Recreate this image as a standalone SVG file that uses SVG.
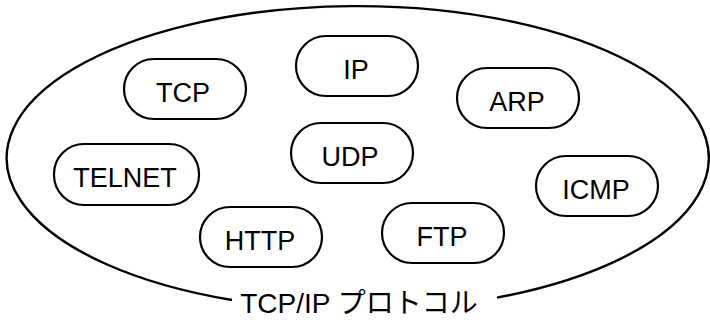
<svg xmlns="http://www.w3.org/2000/svg" width="710" height="320" viewBox="0 0 710 320">
  <style>
    .pill { fill: #ffffff; stroke: #000000; stroke-width: 2.2; }
    .lbl { font-family: "Liberation Sans", Arial, sans-serif; font-size: 27px; fill: #000000; text-anchor: middle; }
    .title { font-family: "Liberation Sans", "Noto Sans CJK JP", sans-serif; font-size: 28px; fill: #000000; text-anchor: middle; }
    .outline { fill: none; stroke: #000000; stroke-width: 2.4; }
  </style>
  <rect width="710" height="320" fill="#ffffff"/>

  <!-- enclosing oval, open at the bottom for the caption -->
  <g id="suite">
    <path class="outline" d="M 232 300 A 351 152 0 1 1 497 297.6"/>
    <text class="title" x="359" y="313">TCP/IP プロトコル</text>
  </g>

  <g id="connectors"></g>

  <g id="tcp">
    <rect class="pill" x="124" y="59" width="122" height="60" rx="30"/>
    <text class="lbl" x="183" y="102">TCP</text>
  </g>
  <g id="ip">
    <rect class="pill" x="296" y="36" width="122" height="60" rx="30"/>
    <text class="lbl" x="356" y="79">IP</text>
  </g>
  <g id="arp">
    <rect class="pill" x="457" y="68" width="122" height="60" rx="30"/>
    <text class="lbl" x="517" y="111">ARP</text>
  </g>
  <g id="udp">
    <rect class="pill" x="291" y="123" width="122" height="60" rx="30"/>
    <text class="lbl" x="350" y="166">UDP</text>
  </g>
  <g id="telnet">
    <rect class="pill" x="54" y="144" width="145" height="61" rx="30"/>
    <text class="lbl" x="125" y="187">TELNET</text>
  </g>
  <g id="http">
    <rect class="pill" x="200" y="207" width="122" height="60" rx="30"/>
    <text class="lbl" x="260" y="250">HTTP</text>
  </g>
  <g id="ftp">
    <rect class="pill" x="382" y="203" width="122" height="60" rx="30"/>
    <text class="lbl" x="442" y="246">FTP</text>
  </g>
  <g id="icmp">
    <rect class="pill" x="536" y="156" width="122" height="60" rx="30"/>
    <text class="lbl" x="596" y="199">ICMP</text>
  </g>
</svg>
